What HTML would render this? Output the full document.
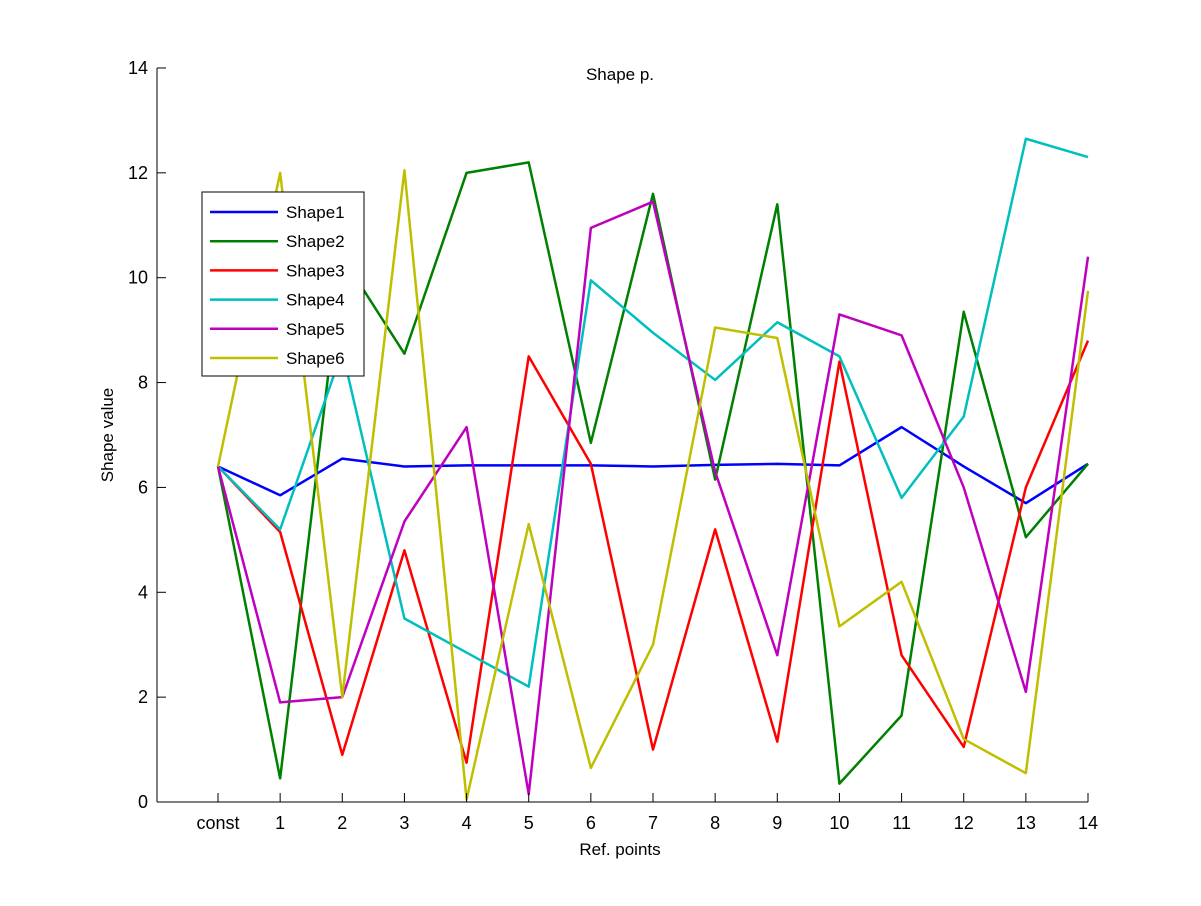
<!DOCTYPE html>
<html><head><meta charset="utf-8"><style>
body{margin:0;background:#fff}
svg text{font-family:"Liberation Sans",Arial,sans-serif;font-size:17px;fill:#000}
</style></head><body>
<svg id="s" width="1201" height="901" xmlns="http://www.w3.org/2000/svg">
<rect width="1201" height="901" fill="#fff"/>
<g id="g"></g>
</svg>
<script>
const g=document.getElementById('g');
const X=v=>218+v*62.143, Y=v=>802-v*52.43;
let h='';
const data=[
['#0000ff',[6.4,5.85,6.55,6.4,6.42,6.42,6.42,6.4,6.43,6.45,6.42,7.15,6.4,5.7,6.45]],
['#008000',[6.4,0.45,10.4,8.55,12.0,12.2,6.85,11.6,6.15,11.4,0.35,1.65,9.35,5.05,6.45]],
['#ff0000',[6.4,5.15,0.9,4.8,0.75,8.5,6.45,1.0,5.2,1.15,8.4,2.8,1.05,6.0,8.8]],
['#00bfbf',[6.4,5.2,8.6,3.5,2.85,2.2,9.95,8.95,8.05,9.15,8.5,5.8,7.35,12.65,12.3]],
['#bf00bf',[6.4,1.9,2.0,5.35,7.15,0.15,10.95,11.45,6.3,2.8,9.3,8.9,6.0,2.1,10.4]],
['#bfbf00',[6.4,12.0,2.0,12.05,0.05,5.3,0.65,3.0,9.05,8.85,3.35,4.2,1.2,0.55,9.75]]];
data.forEach(d=>{h+=`<polyline fill="none" stroke="${d[0]}" stroke-width="2.5" stroke-linejoin="round" points="${d[1].map((v,i)=>X(i)+','+Y(v)).join(' ')}"/>`;});
h+=`<line x1="157" y1="68" x2="157" y2="802" stroke="#000"/><line x1="157" y1="802" x2="1088" y2="802" stroke="#000"/>`;
for(let i=0;i<=14;i+=2){const y=Y(i);h+=`<line x1="157" y1="${y}" x2="166" y2="${y}" stroke="#000"/><text x="148" y="${y+6}" text-anchor="end" style="font-size:18px">${i}</text>`;}
for(let i=0;i<=14;i++){const x=X(i);h+=`<line x1="${x}" y1="802" x2="${x}" y2="793" stroke="#000"/><text x="${x}" y="829" text-anchor="middle" style="font-size:18px">${i==0?'const':i}</text>`;}
h+=`<text x="620" y="80" text-anchor="middle">Shape p.</text>`;
h+=`<text x="620" y="855" text-anchor="middle">Ref. points</text>`;
h+=`<text transform="translate(113,435) rotate(-90)" text-anchor="middle">Shape value</text>`;
h+=`<rect x="202" y="192" width="162" height="184" fill="#fff" stroke="#000"/>`;
data.forEach((d,i)=>{const y=212+i*29.2;h+=`<line x1="210" y1="${y}" x2="278" y2="${y}" stroke="${d[0]}" stroke-width="2.5"/><text x="286" y="${y+6}">Shape${i+1}</text>`;});
g.innerHTML=h;
</script>
</body></html>
